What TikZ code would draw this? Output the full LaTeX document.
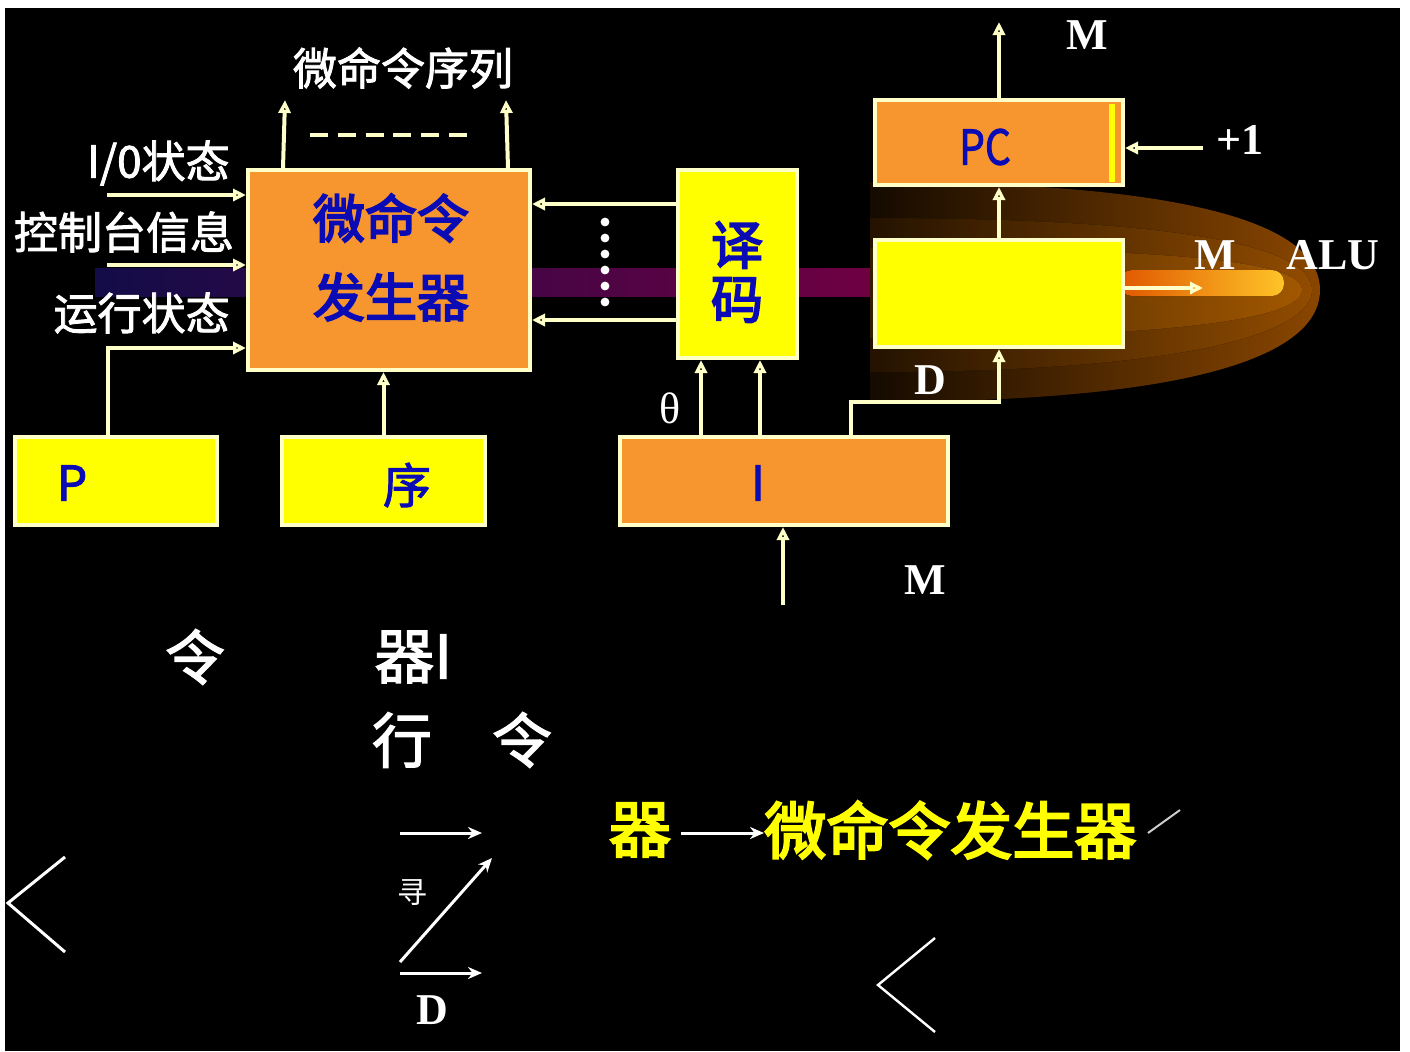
\documentclass[tikz,border=0pt]{standalone}
\usepackage{fontspec}
\setmainfont{Liberation Serif}
\newfontfamily\cjk{Noto Sans CJK SC}
\newfontfamily\cjkm{Noto Sans CJK SC}[FakeBold=2]
\newfontfamily\cjkh{Noto Sans CJK SC}[FakeBold=3.5]
\usetikzlibrary{arrows.meta,calc}
\definecolor{cream}{HTML}{FFFFC8}
\definecolor{regorange}{HTML}{F7962F}
\definecolor{regyellow}{HTML}{FFFF00}
\definecolor{inkblue}{HTML}{0B0BB5}
\definecolor{bandnavy}{HTML}{120C48}
\definecolor{bandmaroon}{HTML}{700042}
\definecolor{glowA}{HTML}{8A4600}
\definecolor{glowB}{HTML}{A85800}
\definecolor{glowC}{HTML}{C46A00}
\definecolor{barL}{HTML}{E05800}
\definecolor{barR}{HTML}{FFC428}
\begin{document}
\begin{tikzpicture}[x=0.5pt,y=-0.5pt,
  reg/.style={draw=cream, line width=2pt, inner sep=0pt},
  orangereg/.style={reg, fill=regorange},
  yellowreg/.style={reg, fill=regyellow},
  wire/.style={draw=cream, line width=2pt},
  arr/.style={wire, -{Triangle[open,length=6.5pt,width=6pt]}},
  warr/.style={draw=white, line width=1.5pt, -{Stealth[length=7pt,width=6pt]}},
  lab/.style={text=white, inner sep=0pt, font=\cjkm\fontsize{22}{26}\selectfont},
  boxtxt/.style={text=inkblue, inner sep=0pt, font=\cjkh\fontsize{26}{30}\selectfont},
  boxtxtr/.style={text=inkblue, inner sep=0pt, font=\cjkm\fontsize{24}{28}\selectfont},
  serif/.style={text=white, inner sep=0pt, font=\bfseries\fontsize{22}{26}\selectfont},
  big/.style={text=white, inner sep=0pt, font=\cjkm\fontsize{30}{34}\selectfont},
  gold/.style={text=regyellow, inner sep=0pt, font=\cjkh\fontsize{31}{35}\selectfont}]

\useasboundingbox (0,0) rectangle (1410,1051);
\fill[white] (0,0) rectangle (1410,1051);
\fill[black] (5,8) rectangle (1400,1051);

% coloured data band behind the registers
\fill[left color=bandnavy, right color=bandmaroon] (95,268) rectangle (880,296);

% glow around the address register output
\fill[left color=glowA!15!black, right color=glowA]
  (870,182) .. controls (1230,182) and (1320,235) .. (1320,290)
  .. controls (1320,345) and (1230,402) .. (870,402) -- cycle;
\fill[left color=glowB!25!black, right color=glowB, opacity=0.85]
  (870,218) .. controls (1200,218) and (1312,250) .. (1312,290)
  .. controls (1312,330) and (1200,372) .. (870,372) -- cycle;
\fill[left color=glowC!35!black, right color=glowC, opacity=0.8]
  (870,248) .. controls (1180,248) and (1302,262) .. (1302,290)
  .. controls (1302,318) and (1180,338) .. (870,338) -- cycle;
\fill[left color=barL, right color=barR, rounded corners=6pt] (1120,270) rectangle (1284,296);

% registers and units
\node[orangereg, minimum width=141pt, minimum height=100pt] (gen) at (389,270) {};
\node[yellowreg, minimum width=59.5pt, minimum height=94pt] (dec) at (737.5,264) {};
\node[yellowreg, minimum width=101pt, minimum height=44pt] (preg) at (116,481) {};
\node[yellowreg, minimum width=101.5pt, minimum height=44pt] (seq) at (383.5,481) {};
\node[orangereg, minimum width=164pt, minimum height=44pt] (ir) at (784,481) {};
\node[yellowreg, minimum width=124pt, minimum height=53.5pt] (ar) at (999,293.5) {};
\node[orangereg, minimum width=124pt, minimum height=42.5pt] (pc) at (999,142.5) {};
\fill[regyellow] (1109,104) rectangle (1115,182);

% texts inside the boxes
\node[boxtxt] (genA) at (391,218) {微命令};
\node[boxtxt] (genB) at (391,297) {发生器};
\node[boxtxt] (decA) at (737,245) {译};
\node[boxtxt] (decB) at (737,300) {码};
\node[boxtxtr] (pregT) at (72,483) {P};
\node[boxtxtr] (seqT) at (407,485) {序};
\node[boxtxtr] (irT) at (758,483) {I};
\node[boxtxtr, xscale=0.85] (pcT) at (985,147) {PC};

% outputs of the micro-command generator
\coordinate (o1) at (285,100);
\coordinate (o2) at (506,100);
\draw[arr] ($(gen.north west)+(37,0)$) -- (o1);
\draw[arr] ($(gen.north east)+(-24,0)$) -- (o2);
\coordinate (d1) at (310,135);
\coordinate (d2) at (467,135);
\draw[wire, dash pattern=on 9pt off 4.9pt] (d1) -- (d2);
\node[lab] (seqlist) at (403,68) {微命令序列};

% status inputs
\coordinate (i1) at (107,195);
\coordinate (i2) at (107,265);
\draw[arr] (i1) -- (gen.west |- i1);
\draw[arr] (i2) -- (gen.west |- i2);
\draw[arr] ($(preg.north west)+(95,0)$) |- ($(gen.south west)+(0,-24)$);
\node[lab, anchor=east] (ioT) at (230,163) {I/0状态};
\node[lab] (conT) at (124,232) {控制台信息};
\node[lab, anchor=east] (runT) at (230,313) {运行状态};

% timing unit
\draw[arr] (seq.north) -- (seq.north |- gen.south);

% decoder outputs
\coordinate (l1) at ($(dec.north west)+(0,36)$);
\coordinate (l2) at ($(dec.north west)+(0,152)$);
\draw[arr] (l1) -- (gen.east |- l1);
\draw[arr] (l2) -- (gen.east |- l2);
\foreach \yy in {222,238,254,270,286,302} \fill[white] (605,\yy) circle (2.2pt);

% instruction register fields
\coordinate (t1) at ($(ir.north west)+(83,0)$);
\coordinate (t2) at ($(ir.north west)+(142,0)$);
\coordinate (t3) at ($(ir.north west)+(233,0)$);
\draw[arr] (t1) -- (t1 |- dec.south);
\draw[arr] (t2) -- (t2 |- dec.south);
\draw[arr] (t3) -- ++(0,-33) -| (ar.south);
\node[text=white, inner sep=0pt, font=\fontsize{22}{26}\selectfont] (theta) at (670,408) {θ};
\node[serif] (dT) at (930,380) {D};
\coordinate (mi) at (783,605);
\draw[arr] (mi) -- (mi |- ir.south);
\node[serif] (mT1) at (925,580) {M};

% program counter paths
\draw[arr] (ar.north) -- (pc.south);
\coordinate (mo) at (999,22);
\draw[arr] (pc.north) -- (mo);
\node[serif] (mT2) at (1087,35) {M};
\coordinate (p1) at (1203,148);
\draw[arr] (p1) -- (pc.east |- p1);
\node[serif] (plus) at (1240,140) {+1};
\coordinate (ao) at (1203,288);
\draw[arr] (ar.east |- ao) -- (ao);
\node[serif] (mT3) at (1215,255) {M};
\node[serif] (aluT) at (1333,255) {ALU};

% lower text block
\node[big] (w1) at (195,657) {令};
\node[big, anchor=west] (w2) at (374,657) {器I};
\node[big] (w3) at (402,740) {行};
\node[big] (w4) at (522,740) {令};

\node[gold] (g1) at (640,830) {器};
\node[gold, anchor=west] (g2) at (764,830) {微命令发生器};
\draw[warr] (g1.east) ++(10,3) coordinate (ga) -- (g2.west |- ga);
\coordinate (s1) at (1148,833);
\coordinate (s2) at (1180,810);
\draw[white!80!black, line width=1pt] (s1) -- (s2);

\coordinate (a1) at (400,833);
\coordinate (a2) at (482,833);
\coordinate (a3) at (400,962);
\coordinate (a4) at (492,858);
\coordinate (a5) at (400,973);
\coordinate (a6) at (482,973);
\draw[warr] (a1) -- (a2);
\draw[warr] (a3) -- (a4);
\draw[warr] (a5) -- (a6);
\node[text=white, inner sep=0pt, font=\cjk\fontsize{15}{18}\selectfont] (xun) at (412,893) {寻};
\node[serif] (dT2) at (432,1010) {D};

% angle marks
\draw[white, line width=1.5pt] (65,857) -- (8,903) -- (65,952);
\draw[white, line width=1.2pt] (935,938) -- (878,985) -- (935,1032);
\end{tikzpicture}
\end{document}
